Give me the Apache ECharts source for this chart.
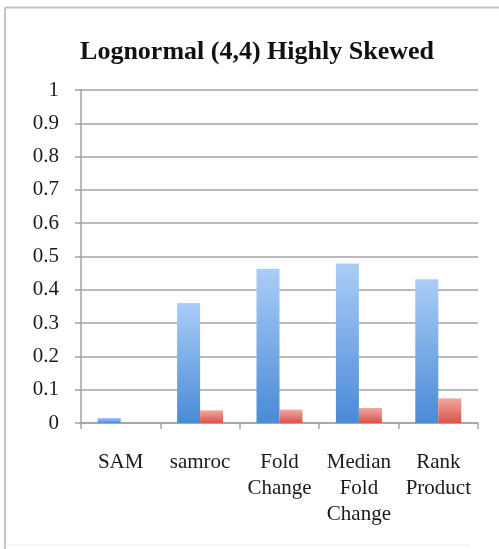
<!DOCTYPE html>
<html>
<head>
<meta charset="utf-8">
<script src="https://cdn.jsdelivr.net/npm/echarts@6/dist/echarts.min.js"></script>
<style>
  html, body { margin: 0; padding: 0; background: #ffffff; }
  #chart { width: 499px; height: 549px; }
</style>
</head>
<body>
<div id="chart"></div>
<script>
// Proportions per method, two series side by side
const categories = ['SAM', 'samroc', 'Fold\nChange', 'Median\nFold\nChange', 'Rank\nProduct'];
const blueValues = [0.015, 0.36, 0.463, 0.479, 0.432];
const redValues = [0, 0.038, 0.040, 0.045, 0.074];
const yTicks = [0, 0.1, 0.2, 0.3, 0.4, 0.5, 0.6, 0.7, 0.8, 0.9, 1];

const serif = '"Liberation Serif", "Times New Roman", serif';
const gridGray = '#a3a3a3';

function vGrad(top, bottom) {
  return new echarts.graphic.LinearGradient(0, 0, 0, 1, [
    { offset: 0, color: top },
    { offset: 1, color: bottom }
  ]);
}

const chart = echarts.init(document.getElementById('chart'), null, { renderer: 'canvas' });

chart.setOption({
  animation: false,
  backgroundColor: '#ffffff',
  title: {
    text: 'Lognormal (4,4) Highly Skewed',
    left: 252,
    textAlign: 'center',
    top: 34,
    textStyle: { fontFamily: serif, fontWeight: 'bold', fontSize: 26, color: '#111111' }
  },
  graphic: [
    { type: 'line', shape: { x1: 5, y1: 7.5, x2: 499, y2: 7.5 }, style: { stroke: '#c4c4c4', lineWidth: 2 } },
    { type: 'line', shape: { x1: 5, y1: 7.5, x2: 5, y2: 549 }, style: { stroke: '#c4c4c4', lineWidth: 2 } },
    { type: 'line', shape: { x1: 5, y1: 545, x2: 470, y2: 545 }, style: { stroke: '#eeeeee', lineWidth: 1 } }
  ],
  grid: { left: 81, right: 21, top: 90, bottom: 126, containLabel: false },
  xAxis: {
    type: 'category',
    data: categories,
    axisLine: { show: true, lineStyle: { color: gridGray, width: 1.5 } },
    axisTick: { show: true, length: 6, lineStyle: { color: gridGray, width: 1.5 } },
    axisLabel: {
      interval: 0,
      margin: 26,
      fontFamily: serif,
      fontSize: 21,
      lineHeight: 26,
      color: '#1a1a1a',
      align: 'center'
    }
  },
  yAxis: {
    type: 'value',
    min: 0,
    max: 1,
    interval: 0.1,
    axisLine: { show: true, lineStyle: { color: gridGray, width: 1.5 } },
    axisTick: { show: true, length: 6, lineStyle: { color: gridGray, width: 1.5 } },
    splitLine: { show: true, lineStyle: { color: gridGray, width: 1.5 } },
    axisLabel: {
      margin: 22,
      fontFamily: serif,
      fontSize: 21,
      color: '#1a1a1a',
      formatter: function (v) {
        const t = yTicks.find(function (k) { return Math.abs(k - v) < 1e-9; });
        return t === undefined ? '' : String(t);
      }
    }
  },
  series: [
    {
      type: 'bar',
      data: blueValues,
      barWidth: 23,
      barGap: '0%',
      itemStyle: { color: vGrad('#aacdf7', '#4a8ad6') }
    },
    {
      type: 'bar',
      data: redValues,
      barWidth: 23,
      itemStyle: { color: vGrad('#f3a7a1', '#da5249') }
    }
  ]
});
</script>
</body>
</html>
